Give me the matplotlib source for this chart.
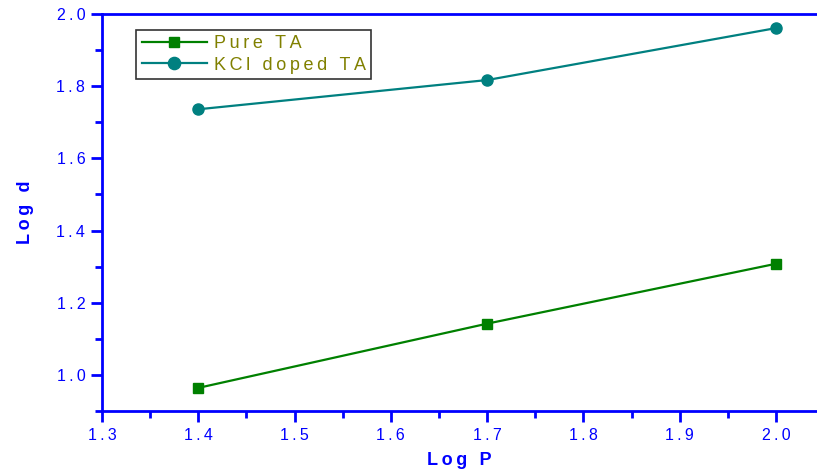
import matplotlib.pyplot as plt
from matplotlib.ticker import MultipleLocator, FuncFormatter

plt.rcParams['font.family'] = ['Liberation Sans', 'DejaVu Sans']

log_p = [1.4, 1.7, 2.0]
pure_ta = [0.964, 1.142, 1.308]
kcl_doped_ta = [1.736, 1.817, 1.961]

BLUE = '#0000ff'


def spaced(s):
    return '\u2009'.join(s)


fig = plt.figure(figsize=(8.17, 4.73), dpi=100)
ax = fig.add_axes([0.1248, 0.1311, 0.8752, 0.8393])

ax.plot(log_p, pure_ta, color='#008000', lw=1.6, marker='s', ms=7,
        label=spaced('Pure TA'))
ax.plot(log_p, kcl_doped_ta, color='#008080', lw=1.6, marker='o', ms=8,
        label=spaced('KCl doped TA'))

ax.set_xlim(1.3, 2.0425)
ax.set_ylim(0.9, 2.0)
ax.xaxis.set_major_locator(MultipleLocator(0.1))
ax.xaxis.set_minor_locator(MultipleLocator(0.05))
ax.yaxis.set_major_locator(MultipleLocator(0.2))
ax.yaxis.set_minor_locator(MultipleLocator(0.1))
fmt = FuncFormatter(lambda v, pos: spaced(f'{v:.1f}'))
ax.xaxis.set_major_formatter(fmt)
ax.yaxis.set_major_formatter(fmt)

for side in ('left', 'bottom', 'top'):
    ax.spines[side].set_color(BLUE)
    ax.spines[side].set_linewidth(2)
ax.spines['right'].set_visible(False)

ax.tick_params(which='both', direction='out', color=BLUE, width=2,
               labelcolor=BLUE, labelsize=11.5, top=False, right=False)
ax.tick_params(which='major', length=8, pad=4)
ax.tick_params(which='minor', length=5)

ax.set_xlabel(spaced('Log P'), color=BLUE, fontsize=13, fontweight='bold',
              labelpad=7)
ax.set_ylabel(spaced('Log d'), color=BLUE, fontsize=13, fontweight='bold',
              labelpad=16)

leg = ax.legend(loc='upper left', bbox_to_anchor=(0.048, 0.96), fontsize=13,
                frameon=True, fancybox=False, edgecolor='black',
                handlelength=3.6, borderpad=0.3, labelspacing=0.25,
                handletextpad=0.4, borderaxespad=0, markerscale=1.1)
leg.get_frame().set_linewidth(1.2)
for t in leg.get_texts():
    t.set_color('#808000')

fig.savefig('out.png', dpi=100)
